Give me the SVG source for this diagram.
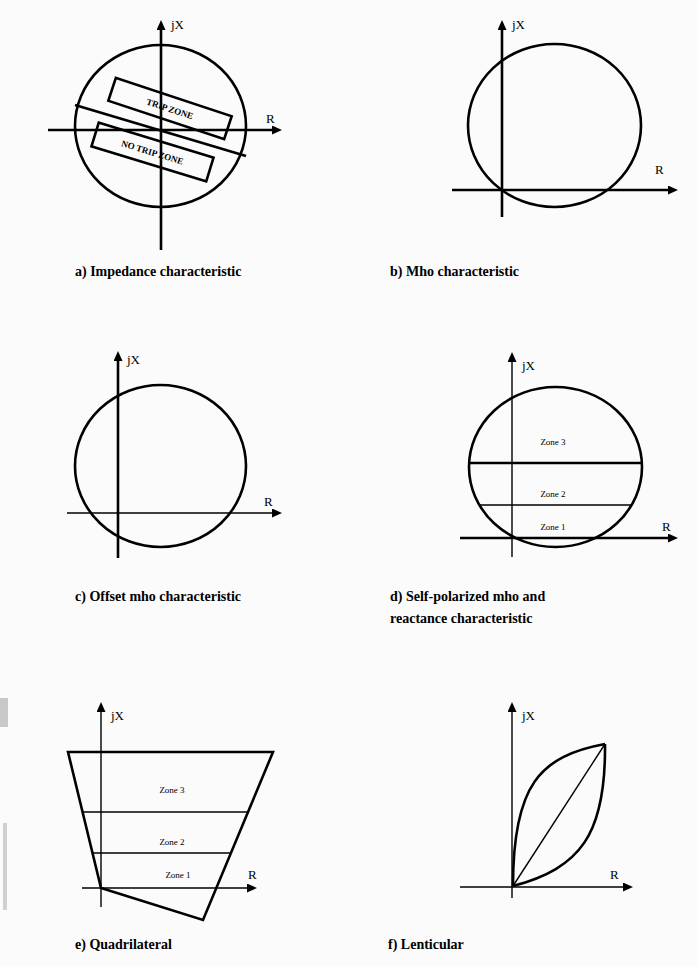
<svg xmlns="http://www.w3.org/2000/svg" width="698" height="966" viewBox="0 0 698 966">
  <defs>
    <marker id="arr" markerUnits="userSpaceOnUse" markerWidth="12" markerHeight="10" refX="4" refY="4.5" orient="auto">
      <path d="M0,0 L10,4.5 L0,9 z" fill="#000"/>
    </marker>
    <style>
      .ax{stroke:#000;fill:none;marker-end:url(#arr)}
      .thick{stroke-width:2.6}
      .thin{stroke-width:1.4}
      .sh{stroke:#000;fill:none;stroke-width:2.6}
      .ln{stroke:#000;fill:none;stroke-width:1.4}
      .lab{font-family:"Liberation Serif","Times New Roman",serif;font-size:13px;fill:#000}
      .zone{font-family:"Liberation Serif","Times New Roman",serif;font-size:9px;fill:#000;text-anchor:middle}
      .cap{font-family:"Liberation Serif","Times New Roman",serif;font-size:14px;font-weight:bold;fill:#000}
    </style>
  </defs>
  <rect width="698" height="966" fill="#fbfbfb"/>
  <rect x="0" y="698" width="8" height="29" fill="#c8c8c8"/>
  <rect x="3" y="823" width="4" height="87" fill="#d0d0d0"/>

  <g id="panel-a">
    <ellipse class="sh" cx="160.5" cy="126" rx="85.5" ry="81"/>
    <line class="sh" x1="75" y1="105" x2="246" y2="156"/>
    <g transform="translate(170,108.5) rotate(18.3)">
      <rect class="sh" x="-61" y="-12" width="122" height="24" stroke-width="2.3"/>
      <text class="zone" x="0" y="3.5" font-size="9.5" font-weight="bold">TRIP ZONE</text>
    </g>
    <g transform="translate(152.5,152) rotate(17)">
      <rect class="sh" x="-60" y="-12.5" width="120" height="25" stroke-width="2.3"/>
      <text class="zone" x="0" y="3.5" font-size="9.5" font-weight="bold">NO TRIP ZONE</text>
    </g>
    <line class="ax thick" x1="161" y1="250" x2="161" y2="26"/>
    <line class="ax thick" x1="48" y1="130" x2="276" y2="130"/>
    <text class="lab" x="171" y="29">jX</text>
    <text class="lab" x="266" y="123">R</text>
  </g>

  <g id="panel-b">
    <ellipse class="sh" cx="554.5" cy="125.5" rx="86.5" ry="81.5"/>
    <line class="ax thick" x1="502" y1="217" x2="502" y2="26"/>
    <line class="ax thick" x1="452" y1="190" x2="672" y2="190"/>
    <text class="lab" x="512" y="29">jX</text>
    <text class="lab" x="655" y="174">R</text>
  </g>

  <g id="panel-c">
    <ellipse class="sh" cx="160.5" cy="466" rx="85.5" ry="81"/>
    <line class="ax thick" x1="118" y1="558" x2="118" y2="357"/>
    <line class="ax thin" x1="67" y1="513" x2="276" y2="513"/>
    <text class="lab" x="127" y="364">jX</text>
    <text class="lab" x="264" y="506">R</text>
  </g>

  <g id="panel-d">
    <ellipse class="sh" cx="555.5" cy="467" rx="86.5" ry="80"/>
    <line class="sh" x1="469" y1="463" x2="642" y2="463"/>
    <line class="ln" x1="479.5" y1="505" x2="631.5" y2="505"/>
    <line class="ax thin" x1="512" y1="557" x2="512" y2="358"/>
    <line class="ax thick" x1="460" y1="538" x2="672" y2="538"/>
    <text class="zone" x="553" y="445">Zone 3</text>
    <text class="zone" x="553" y="497">Zone 2</text>
    <text class="zone" x="553" y="530">Zone 1</text>
    <text class="lab" x="522" y="370">jX</text>
    <text class="lab" x="662" y="531">R</text>
  </g>

  <g id="panel-e">
    <polygon class="sh" points="68,752 273,752 203,920 101,888" stroke-linejoin="miter"/>
    <line class="ln" x1="82.6" y1="812" x2="248" y2="812"/>
    <line class="ln" x1="92.5" y1="853" x2="231" y2="853"/>
    <line class="ax thin" x1="101" y1="907" x2="101" y2="708"/>
    <line class="ax thin" x1="82" y1="888" x2="251" y2="888"/>
    <text class="zone" x="172" y="793">Zone 3</text>
    <text class="zone" x="172" y="845">Zone 2</text>
    <text class="zone" x="178" y="878">Zone 1</text>
    <text class="lab" x="111" y="720">jX</text>
    <text class="lab" x="248" y="879">R</text>
  </g>

  <g id="panel-f">
    <path class="sh" d="M513,886 C513,785 540,756 605,744"/>
    <path class="sh" d="M513,886 C580,868 606,835 605,744"/>
    <line class="ln" x1="513" y1="886" x2="605" y2="744"/>
    <line class="ax thin" x1="512" y1="898" x2="512" y2="708"/>
    <line class="ax thin" x1="460" y1="887" x2="627" y2="887"/>
    <text class="lab" x="522" y="720">jX</text>
    <text class="lab" x="610" y="879">R</text>
  </g>

  <g id="captions">
    <text class="cap" x="75" y="276">a) Impedance characteristic</text>
    <text class="cap" x="390" y="276">b) Mho characteristic</text>
    <text class="cap" x="75" y="601">c) Offset mho characteristic</text>
    <text class="cap" x="390" y="601">d) Self-polarized mho and</text>
    <text class="cap" x="390" y="623">reactance characteristic</text>
    <text class="cap" x="75" y="949">e) Quadrilateral</text>
    <text class="cap" x="388" y="949">f) Lenticular</text>
  </g>
</svg>
